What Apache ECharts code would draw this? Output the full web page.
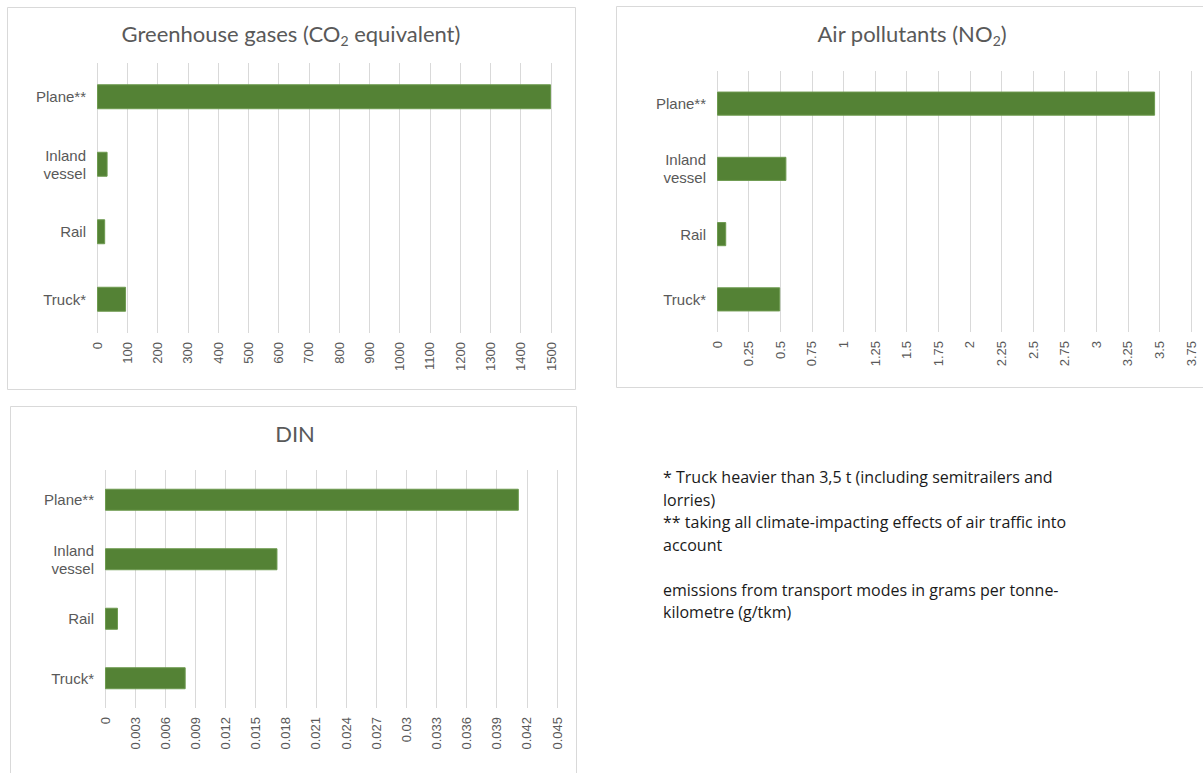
<!DOCTYPE html>
<html>
<head>
<meta charset="utf-8">
<script src="https://cdn.jsdelivr.net/npm/echarts@6/dist/echarts.min.js"></script>
<style>
    html, body { margin: 0; padding: 0; background: #fff; }
    #main { width: 1203px; height: 773px; }
</style>
</head>
<body>
<div id="main"></div>
<script>
// categories bottom to top, as Excel draws a bar chart
const categories = ['Truck*', 'Rail', 'Inland\nvessel', 'Plane**'];

const ghgValues = [96, 27, 35, 1500];
const no2Values = [0.5, 0.073, 0.549, 3.466];
const dinValues = [0.00803, 0.00129, 0.01717, 0.0412];

// value axis ranges: [max, interval]
const ghgAxis = [1500, 100];
const no2Axis = [3.75, 0.25];
const dinAxis = [0.045, 0.003];

const notes = [
    '* Truck heavier than 3,5 t (including semitrailers and',
    'lorries)',
    '** taking all climate-impacting effects of air traffic into',
    'account',
    '',
    'emissions from transport modes in grams per tonne-',
    'kilometre (g/tkm)',
];

const grey = '#595959';
const green = '#548235';
const labelFont = '"Liberation Sans", Arial, sans-serif';
const titleFont = 'Lato, "Open Sans", sans-serif';
const noteFont = '"Open Sans", Lato, sans-serif';

const chart = echarts.init(document.getElementById('main'), null, { renderer: 'svg' });

const grids = [
    { left: 97, top: 63, width: 454, height: 270 },
    { left: 717, top: 71, width: 474, height: 261 },
    { left: 105, top: 470, width: 452, height: 238 },
];

const makeTitle = (text, x, y) => ({
    text,
    left: x,
    top: y,
    textAlign: 'center',
    textStyle: {
        fontFamily: titleFont,
        fontSize: 22,
        fontWeight: 'normal',
        color: grey,
        rich: {
            a: { fontFamily: titleFont, fontSize: 22, color: grey },
            s: { fontFamily: titleFont, fontSize: 14, color: grey, verticalAlign: 'bottom', lineHeight: 28 },
        },
    },
});

const xAxes = [ghgAxis, no2Axis, dinAxis].map((ax, i) => ({
    type: 'value',
    gridIndex: i,
    min: 0,
    max: ax[0],
    interval: ax[1],
    axisLine: { show: false },
    axisTick: { show: false },
    splitLine: { show: true, lineStyle: { color: '#d9d9d9', width: 1 } },
    axisLabel: {
        rotate: 90,
        margin: 9,
        fontSize: 13,
        fontFamily: labelFont,
        color: grey,
        formatter: (v) => String(v),
    },
}));

const yAxes = [0, 1, 2].map((i) => ({
    type: 'category',
    gridIndex: i,
    data: categories,
    axisLine: { show: false },
    axisTick: { show: false },
    axisLabel: {
        margin: 11,
        fontSize: 15,
        lineHeight: 18,
        fontFamily: labelFont,
        color: grey,
    },
}));

const makeSeries = (data, i) => ({
    type: 'bar',
    xAxisIndex: i,
    yAxisIndex: i,
    data,
    barWidth: '37%',
    itemStyle: { color: green, borderColor: '#6d9a4f', borderWidth: 1 },
    silent: true,
});

const panel = (x, y, w, h) => ({
    type: 'rect',
    shape: { x: x + 0.5, y: y + 0.5, width: w, height: h },
    style: { fill: 'none', stroke: '#d9d9d9', lineWidth: 1 },
    z: -1,
    silent: true,
});

chart.setOption({
    animation: false,
    title: [
        makeTitle('{a|Greenhouse gases (CO}{s|2}{a| equivalent)}', 286, 14),
        makeTitle('{a|Air pollutants (NO}{s|2}{a|)}', 907, 14),
        makeTitle('DIN', 290, 417),
    ],
    grid: grids,
    xAxis: xAxes,
    yAxis: yAxes,
    series: [makeSeries(ghgValues, 0), makeSeries(no2Values, 1), makeSeries(dinValues, 2)],
    graphic: [
        panel(7, 7, 568, 382),
        panel(616, 6, 600, 381),
        panel(10, 406, 566, 380),
        {
            type: 'text',
            left: 663,
            top: 466,
            style: {
                text: notes.join('\n'),
                fontFamily: noteFont,
                fontSize: 16,
                lineHeight: 22.5,
                fill: '#1a1a1a',
            },
        },
    ],
});
</script>
</body>
</html>
